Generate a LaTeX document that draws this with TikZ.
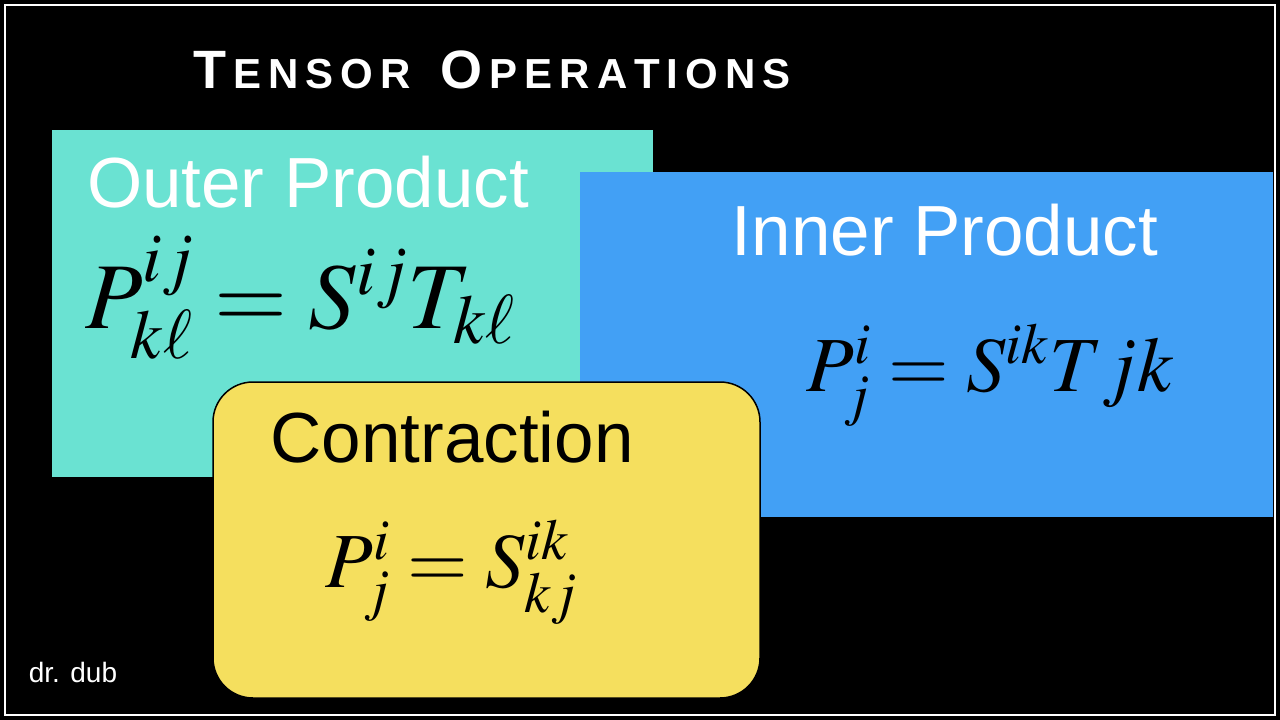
\documentclass[tikz,border=0pt]{standalone}
\usepackage{mathptmx}
\usepackage{fontspec}
\setmainfont{Liberation Sans}
\definecolor{teal1}{HTML}{6AE2D2}
\definecolor{blue1}{HTML}{42A0F5}
\definecolor{yel1}{HTML}{F5DF5E}
\tikzset{lbl/.style={font=\fontsize{71}{78}\selectfont},
  frm/.style={font=\fontsize{78}{86}\selectfont}}
\begin{document}
\begin{tikzpicture}[x=1pt,y=-1pt]
\useasboundingbox (0,0) rectangle (1280,720);
\fill[black] (0,0) rectangle (1280,720);
\draw[white,line width=2pt] (5,5) rectangle (1275,715);
\node[white,font=\bfseries\fontsize{54}{60}\selectfont] (title) at (492,70)
  {T\fontsize{42}{48}\selectfont\,E\,N\,S\,O\,R\fontsize{54}{60}\selectfont\ \ O\fontsize{42}{48}\selectfont\,P\,E\,R\,A\,T\,I\,O\,N\,S};
\fill[teal1] (52,130) rectangle (653,477);
\node[white,lbl] (outer) at (308,182) {Outer Product};
\node[black,font=\fontsize{94}{100}\selectfont] (outerf) at (300,298) {$P^{ij}_{k\ell}=S^{ij}T_{k\ell}$};
\fill[blue1] (580,172) rectangle (1273,517);
\node[white,lbl] (inner) at (945,230) {Inner Product};
\node[black,frm] (innerf) at (990,375) {$P^{i}_{j}=S^{ik}Tjk$};
\draw[fill=yel1,draw=black,line width=1.5pt,rounded corners=40pt] (213,382) rectangle (760,698);
\node[black,lbl] (contr) at (452,437) {Contraction};
\node[black,frm] (contrf) at (452,572) {$P^{i}_{j}=S^{ik}_{kj}$};
\node[white,font=\fontsize{28}{32}\selectfont] (dub) at (73,672) {dr. dub};
\end{tikzpicture}
\end{document}
